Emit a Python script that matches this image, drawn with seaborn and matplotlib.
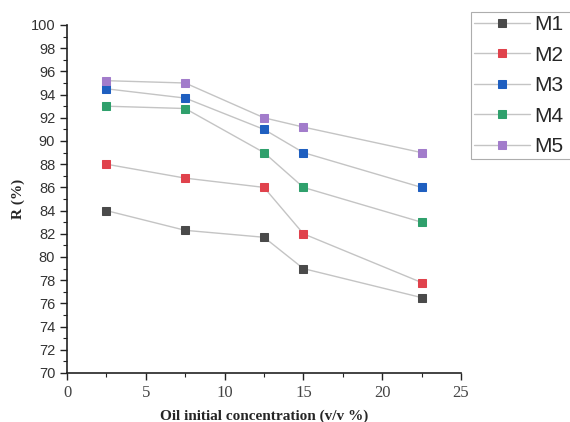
import matplotlib
matplotlib.use("Agg")
import matplotlib.pyplot as plt
import seaborn as sns
import pandas as pd
from matplotlib.ticker import MultipleLocator

x_vals = [2.5, 7.5, 12.5, 15, 22.5]
m1 = [84.0, 82.3, 81.7, 79.0, 76.5]
m2 = [88.0, 86.8, 86.0, 82.0, 77.8]
m3 = [94.5, 93.7, 91.0, 89.0, 86.0]
m4 = [93.0, 92.8, 89.0, 86.0, 83.0]
m5 = [95.2, 95.0, 92.0, 91.2, 89.0]
series_names = ["M1", "M2", "M3", "M4", "M5"]
marker_colors = ["#4a4a4a", "#e0424c", "#1f5fc0", "#2fa06c", "#a27ccb"]

rows = []
for name, vals in zip(series_names, [m1, m2, m3, m4, m5]):
    for xv, yv in zip(x_vals, vals):
        rows.append({"x": xv, "R": yv, "series": name})
df = pd.DataFrame(rows)

sns.set_theme(style="ticks")
fig = plt.figure(figsize=(5.7, 4.22), dpi=100)
ax = fig.add_axes([67/570, 1-373/422, (461-67)/570, (373-25)/422])

for name, col in zip(series_names, marker_colors):
    sub = df[df["series"] == name]
    sns.lineplot(data=sub, x="x", y="R", ax=ax, color="#c4c4c4", linewidth=1.0,
                 marker="s", markersize=6, markerfacecolor=col, markeredgecolor=col,
                 label=name, sort=False)

ax.set_xlim(0, 25)
ax.set_ylim(70, 100)
ax.xaxis.set_major_locator(MultipleLocator(5))
ax.xaxis.set_minor_locator(MultipleLocator(2.5))
ax.yaxis.set_major_locator(MultipleLocator(2))
ax.yaxis.set_minor_locator(MultipleLocator(1))
for s in ["top", "right"]:
    ax.spines[s].set_visible(False)
for s in ["left", "bottom"]:
    ax.spines[s].set_color("#222222")
    ax.spines[s].set_linewidth(1.2)
ax.tick_params(axis="both", which="major", direction="out", length=5, width=1.0, color="#222222")
ax.tick_params(axis="both", which="minor", direction="out", length=3, width=0.8, color="#222222")
ax.tick_params(axis="y", labelsize=10.5, labelcolor="#333333")
ax.tick_params(axis="x", labelsize=12, labelcolor="#444444")
for lab in ax.get_yticklabels():
    lab.set_family("Liberation Sans")
for lab in ax.get_xticklabels():
    lab.set_family("Liberation Serif")

ax.set_xlabel("Oil initial concentration (v/v %)", fontsize=11, fontweight="bold",
              family="Liberation Serif", labelpad=6)
ax.set_ylabel("R (%)", fontsize=11, fontweight="bold", family="Liberation Serif", labelpad=4)

leg = ax.legend(loc="upper left", bbox_to_anchor=(471/570, 1-12/422, 0.4, 0.0),
                bbox_transform=fig.transFigure, mode="expand", frameon=True, fancybox=False,
                prop={"family": "Liberation Sans", "size": 15}, handlelength=2.7,
                labelspacing=0.55, borderpad=0.15, handletextpad=0.2, borderaxespad=0)
leg.get_frame().set_edgecolor("#999999")
leg.get_frame().set_linewidth(0.8)
leg.set_clip_on(False)

fig.savefig("out.png", dpi=100)
